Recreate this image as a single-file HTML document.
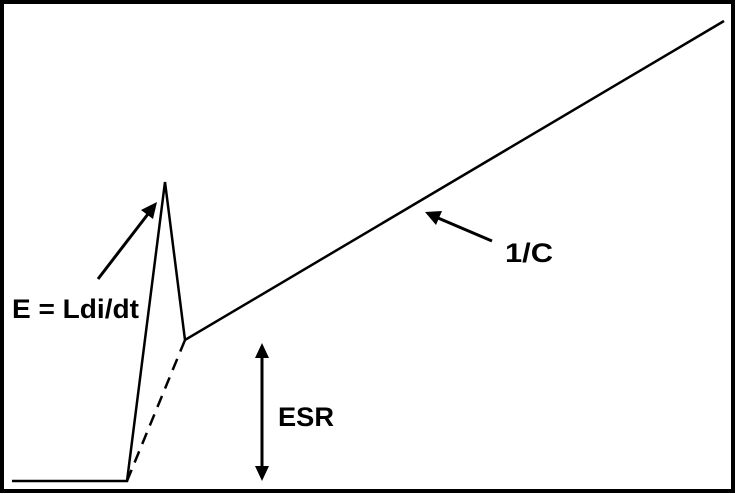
<!DOCTYPE html>
<html><head><style>
html,body{margin:0;padding:0;background:#fff;}
svg{display:block;}
text{font-family:"Liberation Sans",sans-serif;font-weight:bold;font-size:27px;fill:#000;}
</style></head><body>
<svg width="736" height="494" viewBox="0 0 736 494" xmlns="http://www.w3.org/2000/svg">
<rect x="2" y="2" width="731" height="489" fill="#fff" stroke="#000" stroke-width="4"/>
<polyline points="12,481 127,481 165,182 185,340 724,21" fill="none" stroke="#000" stroke-width="2.5" stroke-linejoin="miter"/>
<line x1="127" y1="481" x2="185" y2="340" stroke="#000" stroke-width="2.5" stroke-dasharray="12,8"/>
<line x1="98" y1="279" x2="148" y2="214" stroke="#000" stroke-width="3"/>
<polygon points="157,202 141,210 153,219" fill="#000"/>
<line x1="492" y1="241" x2="438" y2="218" stroke="#000" stroke-width="3"/>
<polygon points="425,212 442,211 436,225" fill="#000"/>
<line x1="262" y1="355" x2="262" y2="468" stroke="#000" stroke-width="3"/>
<polygon points="262,343 255,358 269,358" fill="#000"/>
<polygon points="262,481 255,466 269,466" fill="#000"/>
<text x="12" y="318" textLength="127" lengthAdjust="spacingAndGlyphs">E = Ldi/dt</text>
<text x="278" y="426" textLength="56" lengthAdjust="spacingAndGlyphs">ESR</text>
<text x="505" y="262" textLength="48" lengthAdjust="spacingAndGlyphs">1/C</text>
</svg>
</body></html>
